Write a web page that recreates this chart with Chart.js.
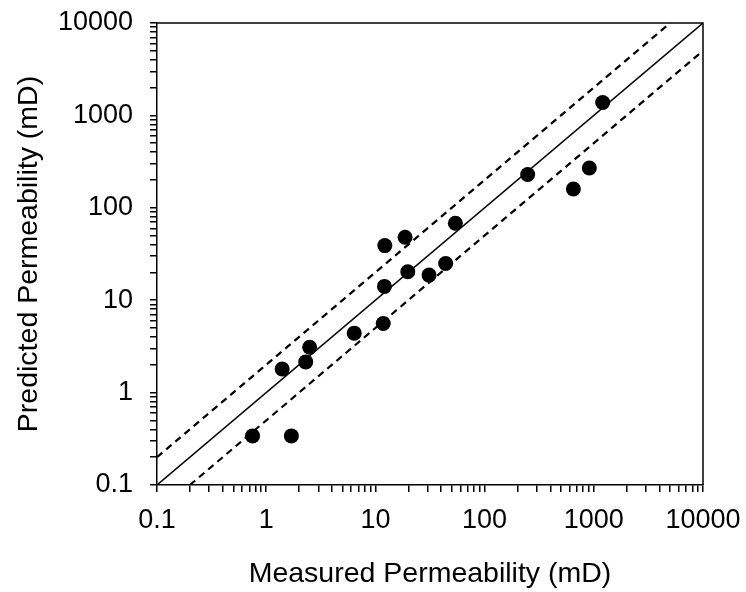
<!DOCTYPE html>
<html lang="en">
<head>
  <meta charset="UTF-8">
  <title>Measured vs Predicted Permeability</title>
  <script src="https://cdn.jsdelivr.net/npm/chart.js"></script>
  <style>
    body {
      margin: 0;
      background: #fff;
    }
    canvas {
      display: block;
    }
  </style>
</head>
<body>
  <canvas id="permChart" width="746" height="592"></canvas>

  <script>
    // measured vs predicted permeability (mD)
    const measured  = [0.75, 1.7, 1.4, 2.3, 2.5, 6.4, 11.8, 12.1, 12.2, 18.7, 19.8, 31, 44, 54, 248, 650, 910, 1206];
    const predicted = [0.34, 0.34, 1.8, 2.15, 3.1, 4.4, 5.6, 14.1, 39, 48, 20.3, 18.7, 25, 68, 229, 160, 270, 1380];

    // 1:1 line and the factor-of-two band
    const oneToOneX = [0.1, 10000];
    const oneToOneY = [0.1, 10000];
    const upperX = [0.1, 5000];
    const upperY = [0.2, 10000];
    const lowerX = [0.2, 10000];
    const lowerY = [0.1, 5000];

    // log axis ticks: labelled decades plus unlabelled minor ticks
    const decadeTicks = [0.1, 1, 10, 100, 1000, 10000];
    const minorSteps = [2, 3, 4, 5, 6, 7, 8, 9];

    const FONT = "Arial, 'Liberation Sans', sans-serif";

    function toPoints(xs, ys) {
      return xs.map((x, i) => ({ x: x, y: ys[i] }));
    }

    function allTicks() {
      const vals = [];
      decadeTicks.forEach((d, i) => {
        vals.push(d);
        if (i < decadeTicks.length - 1) {
          minorSteps.forEach(m => vals.push(+(d * m).toPrecision(3)));
        }
      });
      return vals.map(v => ({ value: v }));
    }

    function logAxis(title, isY) {
      return {
        type: 'logarithmic',
        min: 0.1,
        max: 10000,
        afterBuildTicks: scale => { scale.ticks = allTicks(); },
        afterFit: scale => {
          if (isY) scale.width = 157;
          else scale.height = 107;
          // let layout.padding alone decide where the frame sits
          scale.paddingTop = scale.paddingBottom = 0;
          scale.paddingLeft = scale.paddingRight = 0;
        },
        ticks: {
          autoSkip: false,
          maxRotation: 0,
          padding: isY ? 17 : 12,
          color: '#000',
          font: { family: FONT, size: 27 },
          callback: v => decadeTicks.includes(v) ? String(v) : ''
        },
        grid: {
          drawOnChartArea: false,
          drawTicks: true,
          tickLength: 7,
          color: '#000',
          lineWidth: 1.5
        },
        border: { display: true, color: '#000', width: 1.5 },
        title: {
          display: true,
          text: title,
          color: '#000',
          font: { family: FONT, size: 28.5 },
          padding: isY ? { top: 12 } : { bottom: 1 }
        }
      };
    }

    // top and right edges of the frame
    const framePlugin = {
      id: 'frame',
      afterDraw(chart) {
        const a = chart.chartArea;
        const ctx = chart.ctx;
        ctx.save();
        ctx.strokeStyle = '#000';
        ctx.lineWidth = 1.5;
        ctx.beginPath();
        ctx.moveTo(a.left, a.top);
        ctx.lineTo(a.right, a.top);
        ctx.lineTo(a.right, a.bottom);
        ctx.stroke();
        ctx.restore();
      }
    };

    new Chart(document.getElementById('permChart'), {
      type: 'scatter',
      data: {
        datasets: [
          {
            label: 'Data',
            data: toPoints(measured, predicted),
            pointStyle: 'circle',
            pointRadius: 7.5,
            backgroundColor: '#000',
            borderWidth: 0,
            order: 0
          },
          {
            label: '1:1',
            data: toPoints(oneToOneX, oneToOneY),
            showLine: true,
            pointRadius: 0,
            borderColor: '#000',
            borderWidth: 1.5,
            order: 1
          },
          {
            label: 'x2',
            data: toPoints(upperX, upperY),
            showLine: true,
            pointRadius: 0,
            borderColor: '#000',
            borderWidth: 2.2,
            borderDash: [7, 5],
            order: 1
          },
          {
            label: '/2',
            data: toPoints(lowerX, lowerY),
            showLine: true,
            pointRadius: 0,
            borderColor: '#000',
            borderWidth: 2.2,
            borderDash: [7, 5],
            order: 1
          }
        ]
      },
      options: {
        responsive: false,
        animation: false,
        layout: { padding: { top: 23, right: 43, left: 0, bottom: 0 } },
        plugins: {
          legend: { display: false },
          tooltip: { enabled: false }
        },
        scales: {
          x: logAxis('Measured Permeability (mD)', false),
          y: logAxis('Predicted Permeability (mD)', true)
        }
      },
      plugins: [framePlugin]
    });
  </script>
</body>
</html>
